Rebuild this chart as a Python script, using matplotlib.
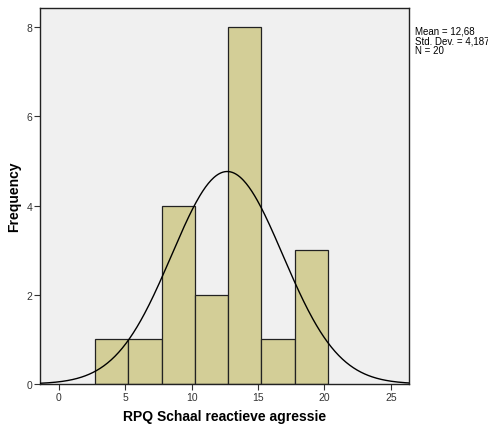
import numpy as np
import matplotlib
matplotlib.use("Agg")
import matplotlib.pyplot as plt

plt.rcParams['font.family'] = ['Liberation Sans', 'DejaVu Sans']

bin_edges = [2.75, 5.25, 7.75, 10.25, 12.75, 15.25, 17.75, 20.25]
counts = [1, 1, 4, 2, 8, 1, 3]
mean = 12.68
std = 4.187
n = 20
xticks = [0, 5, 10, 15, 20, 25]
yticks = [0, 2, 4, 6, 8]

fig = plt.figure(figsize=(4.88, 4.27), dpi=100)
ax = fig.add_axes([40/488, 1-385/427, (409-40)/488, (385-9)/427])
ax.set_facecolor('#F0F0F0')

lefts = np.array(bin_edges[:-1])
widths = np.diff(bin_edges)
ax.bar(lefts, counts, width=widths, align='edge', color='#D3CE97',
       edgecolor='#222222', linewidth=0.9, zorder=2)

xmin, xmax = -1.41, 26.36
xs = np.linspace(xmin, xmax, 400)
bw = widths[0]
ys = n * bw / (std * np.sqrt(2 * np.pi)) * np.exp(-0.5 * ((xs - mean) / std) ** 2)
ax.plot(xs, ys, color='black', linewidth=1.0, zorder=3)

ax.set_xlim(xmin, xmax)
ax.set_ylim(0, 8.43)
ax.set_xticks(xticks)
ax.set_yticks(yticks)
ax.tick_params(labelsize=7.5, colors='#333333', length=4, width=0.8, direction='out', pad=1.5)
for s in ax.spines.values():
    s.set_linewidth(1.0)
    s.set_color('#222222')

fig.text((40+409)/2/488, 1-417/427, 'RPQ Schaal reactieve agressie', fontsize=10,
         fontweight='bold', ha='center', va='center')
fig.text(14/488, 1-197/427, 'Frequency', fontsize=10, fontweight='bold',
         ha='center', va='center', rotation=90)

fig.text(415/488, 1-27/427, 'Mean = 12,68\nStd. Dev. = 4,187\nN = 20',
         fontsize=7, va='top', ha='left', linespacing=0.95)

fig.savefig('out.png', dpi=100, facecolor='white')
